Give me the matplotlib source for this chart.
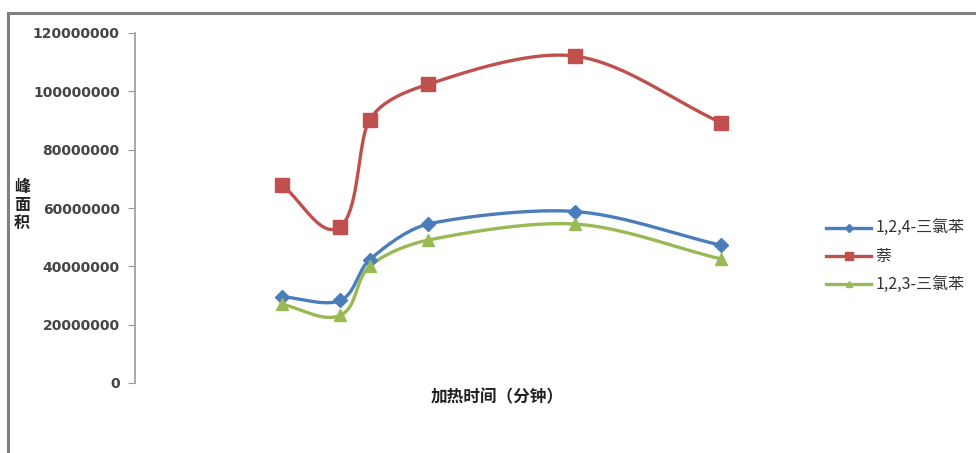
import matplotlib.pyplot as plt
import numpy as np
from matplotlib.lines import Line2D

plt.rcParams['font.family'] = ['Noto Sans CJK SC', 'DejaVu Sans']

# heating time (min) and peak areas
time_min = [5, 7, 8, 10, 15, 20]
tcb_124 = [29.6e6, 28.3e6, 42.2e6, 54.5e6, 58.8e6, 47.2e6]
naphthalene = [67.9e6, 53.6e6, 90.2e6, 102.4e6, 112.1e6, 89.2e6]
tcb_123 = [27.0e6, 23.2e6, 40.0e6, 49.0e6, 54.5e6, 42.5e6]
series_names = ['1,2,4-三氯苯', '萘', '1,2,3-三氯苯']
yticks = np.arange(0, 120000001, 20000000)

XMAX, YMAX = 22, 120000000
AX_W, AX_H = 780 - 135, 350  # axes size in pixels


def smooth(x, y, n=40):
    # smoothed line: cubic Bezier per segment; tangent direction from the
    # neighbours, handle length limited by the shorter adjacent chord
    p = np.column_stack([np.asarray(x, float) * AX_W / XMAX,
                         np.asarray(y, float) * AX_H / YMAX])
    d = np.linalg.norm(np.diff(p, axis=0), axis=1)
    m = len(p)
    tang = []
    for i in range(m):
        a = p[max(i - 1, 0)]
        b = p[min(i + 1, m - 1)]
        v = b - a
        tang.append(v / np.linalg.norm(v))
    pts = [p[0]]
    for i in range(m - 1):
        p1, p2 = p[i], p[i + 1]
        h1 = min(d[i], d[i - 1]) if i > 0 else d[i]
        h2 = min(d[i], d[i + 1]) if i + 1 < m - 1 else d[i]
        c1 = p1 + tang[i] * h1 / 3
        c2 = p2 - tang[i + 1] * h2 / 3
        t = np.linspace(0, 1, n)[1:, None]
        seg = ((1 - t) ** 3 * p1 + 3 * (1 - t) ** 2 * t * c1
               + 3 * (1 - t) * t ** 2 * c2 + t ** 3 * p2)
        pts.extend(seg)
    pts = np.array(pts)
    return pts[:, 0] * XMAX / AX_W, pts[:, 1] * YMAX / AX_H


fig = plt.figure(figsize=(9.76, 4.53), dpi=100)
ax = fig.add_axes([135/976, 1 - 383/453, AX_W/976, AX_H/453])

styles = [
    (tcb_124, '#4A7EBB', 'D', 7.5),
    (naphthalene, '#C0504D', 's', 10.5),
    (tcb_123, '#98B954', '^', 9),
]
handles = []
for (vals, color, marker, ms), name in zip(styles, series_names):
    sx, sy = smooth(time_min, vals)
    ax.plot(sx, sy, color=color, lw=2.4, solid_capstyle='round', zorder=2)
    ax.plot(time_min, vals, ls='none', marker=marker, ms=ms, color=color,
            mec=color, zorder=3)
    handles.append(Line2D([], [], color=color, lw=2.4, marker=marker,
                          ms=ms * 0.5, label=name))

ax.set_xlim(0, XMAX)
ax.set_ylim(0, YMAX)
ax.set_yticks(yticks)
ax.set_yticklabels([f'{v:d}' for v in yticks], family='DejaVu Sans',
                   fontsize=10, fontweight='semibold', color='#454545')
ax.tick_params(axis='y', direction='out', length=5, color='#9a9a9a', pad=6)
ax.set_xticks([])
for s in ['top', 'right', 'bottom']:
    ax.spines[s].set_visible(False)
ax.spines['left'].set_color('#9a9a9a')
ax.spines['left'].set_linewidth(1.2)

fig.text(22/976, 1 - 205/453, '峰\n面\n积', ha='center', va='center',
         fontsize=11.5, fontweight='bold', linespacing=1.15, color='#222222')
fig.text(497/976, 1 - 397/453, '加热时间（分钟）', ha='center', va='center',
         fontsize=12, fontweight='bold', color='#222222')

fig.legend(handles=handles, loc='center left',
           bbox_to_anchor=(812/976, 1 - 257/453), frameon=False,
           fontsize=11.5, handlelength=2.8, handletextpad=0.3,
           labelspacing=0.7, labelcolor='#333333')

# outer chart frame (top and left edges)
fig.add_artist(Line2D([8/976, 8/976], [0, 1 - 13/453], color='#808080',
                      lw=2.2, transform=fig.transFigure))
fig.add_artist(Line2D([8/976, 1], [1 - 13/453, 1 - 13/453], color='#808080',
                      lw=2.2, transform=fig.transFigure))

fig.savefig('out.png', dpi=100)
